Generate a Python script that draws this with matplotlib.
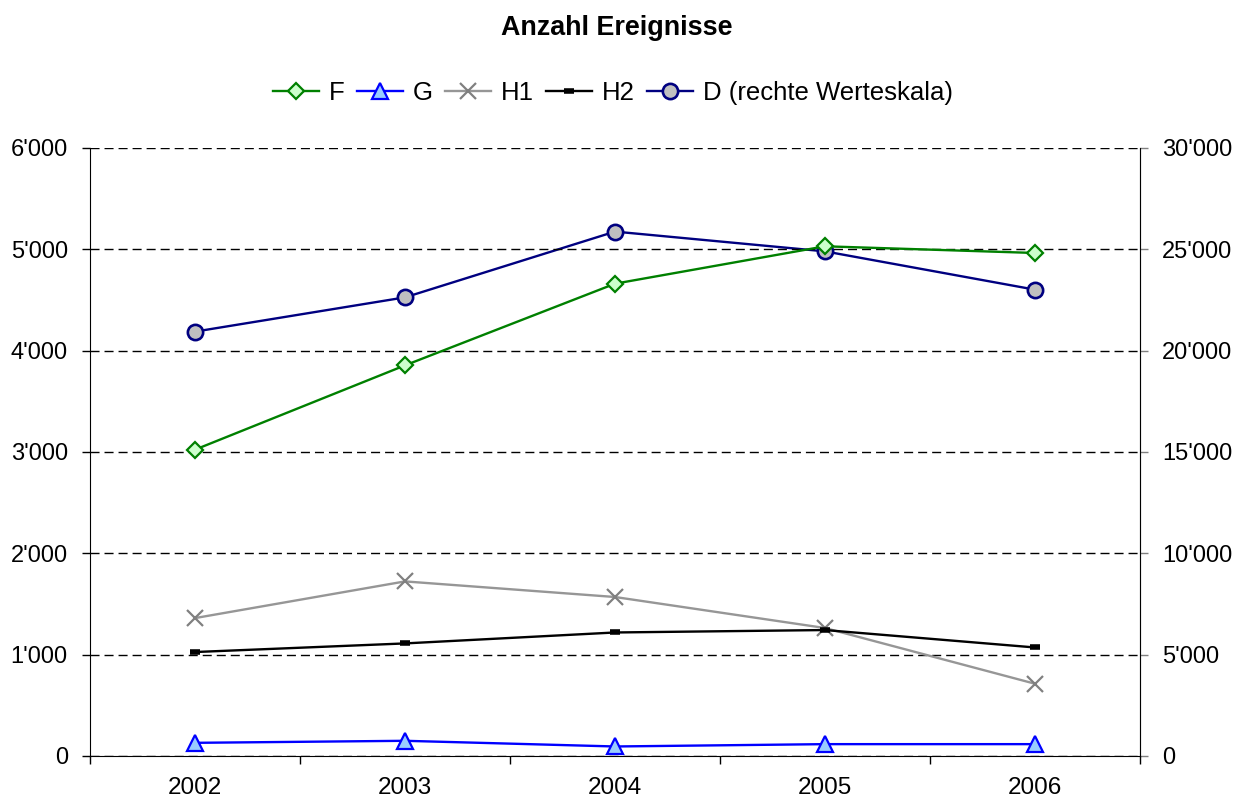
import matplotlib
matplotlib.use("Agg")
import matplotlib.pyplot as plt
from matplotlib.ticker import FuncFormatter, FixedLocator

plt.rcParams['font.family'] = ['Liberation Sans', 'DejaVu Sans']

years = ["2002", "2003", "2004", "2005", "2006"]
F = [3023, 3855, 4661, 5030, 4964]
G = [130, 150, 94, 117, 117]
H1 = [1361, 1723, 1569, 1263, 713]
H2 = [1026, 1111, 1219, 1243, 1071]
D = [20940, 22630, 25875, 24900, 23010]

left_ticks = [0, 1000, 2000, 3000, 4000, 5000, 6000]
right_ticks = [0, 5000, 10000, 15000, 20000, 25000, 30000]

def fmt(v, pos=None):
    v = int(round(v))
    return f"{v:,}".replace(",", "'")

fig = plt.figure(figsize=(12.34, 8.02), dpi=100)
ax = fig.add_axes([90/1234, 1-756/802, (1140-90)/1234, (756-148)/802])
ax2 = ax.twinx()

x = list(range(len(years)))
lw = 1.7
lF, = ax.plot(x, F, color='#008000', lw=lw, marker='D', ms=8, mfc='#ccffcc', mec='#008000', mew=1.6, label='F', zorder=3)
lG, = ax.plot(x, G, color='#0000ff', lw=lw, marker='^', ms=11, mfc='#99ccff', mec='#0000ff', mew=1.6, label='G', zorder=3)
lH1, = ax.plot(x, H1, color='#969696', lw=lw, marker='x', ms=12, mec='#808080', mew=1.6, label='H1', zorder=3)
lH2, = ax.plot(x, H2, color='#000000', lw=lw, marker='_', ms=7, mew=4, label='H2', zorder=3)
lD, = ax2.plot(x, D, color='#000080', lw=lw, marker='o', ms=11, mfc='#c0c0c0', mec='#000080', mew=1.9, label='D (rechte Werteskala)', zorder=3)

ax.set_xlim(-0.5, len(years) - 0.5)
ax.set_ylim(0, 6000)
ax2.set_ylim(0, 30000)
ax.set_yticks(left_ticks)
ax2.set_yticks(right_ticks)
ax.yaxis.set_major_formatter(FuncFormatter(fmt))
ax2.yaxis.set_major_formatter(FuncFormatter(fmt))

ax.set_xticks(x)
ax.set_xticklabels(years)
ax.xaxis.set_minor_locator(FixedLocator([i - 0.5 for i in range(len(years) + 1)]))
ax.tick_params(axis='x', which='major', length=0, pad=15, labelsize=17.5)
ax.tick_params(axis='x', which='minor', length=6, width=1, direction='out', color='black')
ax.tick_params(axis='y', length=6, width=1, pad=10, labelsize=17)
ax2.tick_params(axis='y', length=6, width=1, pad=10, labelsize=17, color='#808080')

for a in (ax, ax2):
    a.spines['top'].set_visible(False)
ax.spines['left'].set_color('black')
ax.spines['bottom'].set_color('black')
ax2.spines['left'].set_visible(False)
ax2.spines['bottom'].set_visible(False)
ax2.spines['right'].set_color('#808080')

ax.grid(axis='y', color='black', linestyle=(0, (6.5, 3.6)), lw=1)
ax.set_axisbelow(True)
ax.set_zorder(ax2.get_zorder() + 1)
ax.patch.set_visible(False)

fig.text(0.5, 1 - 28/802, "Anzahl Ereignisse", ha='center', va='center', fontsize=19.4, fontweight='bold')

fig.legend([lF, lG, lH1, lH2, lD], ['F', 'G', 'H1', 'H2', 'D (rechte Werteskala)'],
           loc='center', bbox_to_anchor=(613/1234, 1 - 93/802), ncol=5, frameon=False,
           fontsize=18.5, handlelength=1.8, handletextpad=0.4, columnspacing=0.45)

fig.savefig("out.png", dpi=100)
